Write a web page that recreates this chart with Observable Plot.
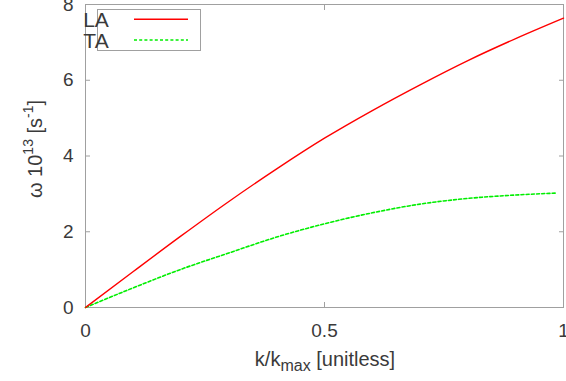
<!DOCTYPE html>
<html><head><meta charset="utf-8">
<script src="https://cdn.jsdelivr.net/npm/d3@7"></script>
<script src="https://cdn.jsdelivr.net/npm/@observablehq/plot@0.6"></script>
<style>
body{margin:0;background:#fff}
#chart{position:relative;width:566px;height:381px;overflow:hidden}
</style>
</head><body><div id="chart"></div>
<script>
// ---- data ----
const seriesNames = ["LA", "TA"];
const kLA = [0, 0.1, 0.2, 0.3, 0.4, 0.5, 0.6, 0.7, 0.8, 0.9, 1.0];
const omegaLA = [0, 0.95, 1.89, 2.80, 3.66, 4.47, 5.20, 5.88, 6.52, 7.10, 7.64];
const kTA = [0, 0.1, 0.2, 0.3, 0.4, 0.5, 0.6, 0.7, 0.8, 0.9, 0.983];
const omegaTA = [0, 0.52, 1.01, 1.44, 1.86, 2.21, 2.50, 2.73, 2.88, 2.97, 3.02];
const xTicks = [0, 0.5, 1];
const yTicks = [0, 2, 4, 6, 8];

const laRows = kLA.map((k, i) => ({k, w: omegaLA[i], s: seriesNames[0]}));
const taRows = kTA.map((k, i) => ({k, w: omegaTA[i], s: seriesNames[1]}));

const FONT = "'Liberation Sans', Arial, Helvetica, sans-serif";
const TXT = "#3a3a3a";
const GRID = "#a0a0a0";
const fmt = d => String(d);

const plot = Plot.plot({
  width: 566, height: 381,
  marginLeft: 85, marginRight: 3, marginTop: 4, marginBottom: 74,
  style: {fontFamily: FONT, fontSize: "19px", color: TXT, background: "white"},
  x: {domain: [0, 1], label: null},
  y: {domain: [0, 8], label: null},
  marks: [
    Plot.frame({stroke: GRID}),
    Plot.axisX(xTicks, {anchor: "bottom", tickSize: 5, dy: -5, stroke: GRID, fill: "none", label: null}),
    Plot.axisX(xTicks, {anchor: "top", tickSize: 5, dy: 5, stroke: GRID, fill: "none", label: null}),
    Plot.axisX(xTicks, {anchor: "bottom", tickSize: 0, tickPadding: 16, tickFormat: fmt, fill: TXT, label: null}),
    Plot.axisY(yTicks, {anchor: "left", tickSize: 5, dx: 5, stroke: GRID, fill: "none", label: null}),
    Plot.axisY(yTicks, {anchor: "right", tickSize: 5, dx: -5, stroke: GRID, fill: "none", label: null}),
    Plot.axisY(yTicks, {anchor: "left", tickSize: 0, tickPadding: 12, tickFormat: fmt, fill: TXT, label: null}),
    Plot.line(taRows, {x: "k", y: "w", stroke: "#00ee00", strokeWidth: 1.6, strokeDasharray: "3,2.2", curve: "monotone-x"}),
    Plot.line(laRows, {x: "k", y: "w", stroke: "#ff0000", strokeWidth: 1.4, curve: "monotone-x"})
  ]
});
document.getElementById("chart").appendChild(plot);

// ---- axis titles and legend ----
const svg = d3.select(plot);
const xl = svg.append("text")
  .attr("x", 325).attr("y", 366).attr("text-anchor", "middle")
  .attr("font-family", FONT).attr("font-size", 20).attr("fill", TXT);
xl.append("tspan").text("k/k");
xl.append("tspan").attr("dy", 5).attr("font-size", 16).text("max");
xl.append("tspan").attr("dy", -5).text(" [unitless]");

const yl = svg.append("text")
  .attr("transform", "translate(42,149) rotate(-90)")
  .attr("text-anchor", "middle")
  .attr("font-family", FONT).attr("font-size", 20).attr("fill", TXT);
yl.append("tspan").text("ω 10");
yl.append("tspan").attr("dy", -9).attr("font-size", 14).text("13");
yl.append("tspan").attr("dy", 9).text(" [s");
yl.append("tspan").attr("dy", -9).attr("font-size", 14).text("-1");
yl.append("tspan").attr("dy", 9).text("]");

const lg = svg.append("g");
lg.append("rect").attr("x", 97.5).attr("y", 9.5).attr("width", 103).attr("height", 41)
  .attr("fill", "white").attr("stroke", GRID);
const legendStyles = [
  {color: "#ff0000", dash: null, width: 1.4},
  {color: "#00ee00", dash: "3,2.2", width: 1.6}
];
seriesNames.forEach((name, i) => {
  const cy = 19.3 + i * 20.7;
  lg.append("text").attr("x", 96).attr("y", cy).attr("dy", "0.36em")
    .attr("font-family", FONT).attr("font-size", 21).attr("fill", TXT).text(name);
  lg.append("line").attr("x1", 134).attr("x2", 188).attr("y1", cy).attr("y2", cy)
    .attr("stroke", legendStyles[i].color).attr("stroke-width", legendStyles[i].width)
    .attr("stroke-dasharray", legendStyles[i].dash);
});
</script>
</body></html>
